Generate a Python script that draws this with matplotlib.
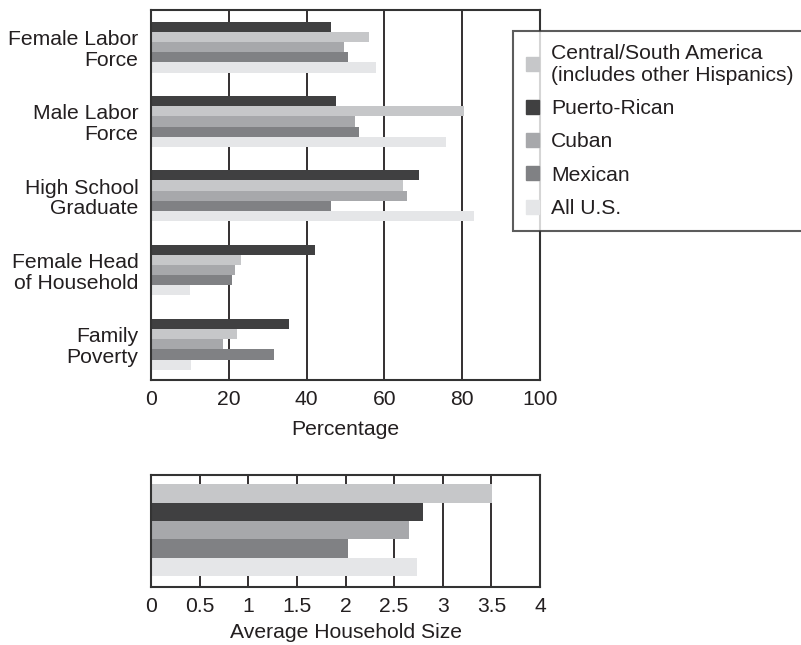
import numpy as np
import matplotlib
matplotlib.use('Agg')
import matplotlib.pyplot as plt

plt.rcParams['font.family'] = ['Liberation Sans', 'DejaVu Sans']
plt.rcParams['text.color'] = '#231f20'
plt.rcParams['axes.labelcolor'] = '#231f20'
plt.rcParams['xtick.color'] = '#231f20'
plt.rcParams['ytick.color'] = '#231f20'

categories = ['Female Labor\nForce', 'Male Labor\nForce', 'High School\nGraduate',
              'Female Head\nof Household', 'Family\nPoverty']
groups = ['Central/South America\n(includes other Hispanics)', 'Puerto-Rican',
          'Cuban', 'Mexican', 'All U.S.']
colors = ['#c6c7c9', '#404041', '#a7a8ab', '#808184', '#e5e6e8']

# percentages, per group, in category order
central_south = [56.0, 80.5, 64.8, 23.1, 22.1]
puerto_rican = [46.4, 47.6, 68.9, 42.2, 35.5]
cuban = [49.6, 52.4, 65.8, 21.6, 18.5]
mexican = [50.6, 53.4, 46.4, 20.7, 31.6]
all_us = [57.8, 75.8, 83.0, 10.0, 10.3]

# average household size, same group order
household = [3.51, 2.80, 2.65, 2.03, 2.74]

pct_ticks = [0, 20, 40, 60, 80, 100]
hh_ticks = [0, 0.5, 1, 1.5, 2, 2.5, 3, 3.5, 4]
hh_labels = ['0', '0.5', '1', '1.5', '2', '2.5', '3', '3.5', '4']

fs = 15.2
edge = '#333333'

fig = plt.figure(figsize=(8.01, 6.45), dpi=100)
ax1 = fig.add_axes([151/801, 1-380/645, 389/801, 370/645])
ax2 = fig.add_axes([151/801, 1-587/645, 389/801, 112/645])

# top chart: bars drawn top-to-bottom PR, C/S, Cuban, Mexican, All US
order = [1, 0, 2, 3, 4]
series = [central_south, puerto_rican, cuban, mexican, all_us]
h = 0.137
y = np.arange(len(categories))
for slot, k in enumerate(order):
    ax1.barh(y + (slot - 2) * h, series[k], height=h, color=colors[k],
             label=groups[k], zorder=2, linewidth=0)
ax1.set_ylim(4.48, -0.5)
ax1.set_xlim(0, 100)
ax1.set_xticks(pct_ticks)
ax1.set_yticks(y)
ax1.set_yticklabels(categories, fontsize=fs, linespacing=1.1)
ax1.set_xlabel('Percentage', fontsize=fs, labelpad=8)

# bottom chart
yb = np.arange(len(household))
ax2.barh(yb, household, height=1.0, color=colors, zorder=2, linewidth=0)
ax2.set_ylim(5.09, -1.01)
ax2.set_xlim(0, 4)
ax2.set_xticks(hh_ticks)
ax2.set_xticklabels(hh_labels)
ax2.set_yticks([])
ax2.set_xlabel('Average Household Size', fontsize=fs, labelpad=5)

for ax in (ax1, ax2):
    ax.grid(axis='x', color='#231f20', linewidth=1.3, zorder=1)
    ax.set_axisbelow(True)
    ax.tick_params(axis='x', length=0, pad=7, labelsize=fs)
    ax.tick_params(axis='y', length=0, pad=9)
    for s in ax.spines.values():
        s.set_color(edge)
        s.set_linewidth(1.5)

handles = [plt.Rectangle((0, 0), 1, 1, color=c) for c in colors]
leg = fig.legend(handles, groups, loc='upper left', bbox_to_anchor=(513/801, 1-31/645),
                 fontsize=fs, frameon=True, fancybox=False, handlelength=0.65,
                 handleheight=0.65, handletextpad=0.55, labelspacing=0.68,
                 borderpad=0.6, borderaxespad=0)
leg.get_frame().set_edgecolor(edge)
leg.get_frame().set_linewidth(1.5)

fig.savefig('out.png', dpi=100)
